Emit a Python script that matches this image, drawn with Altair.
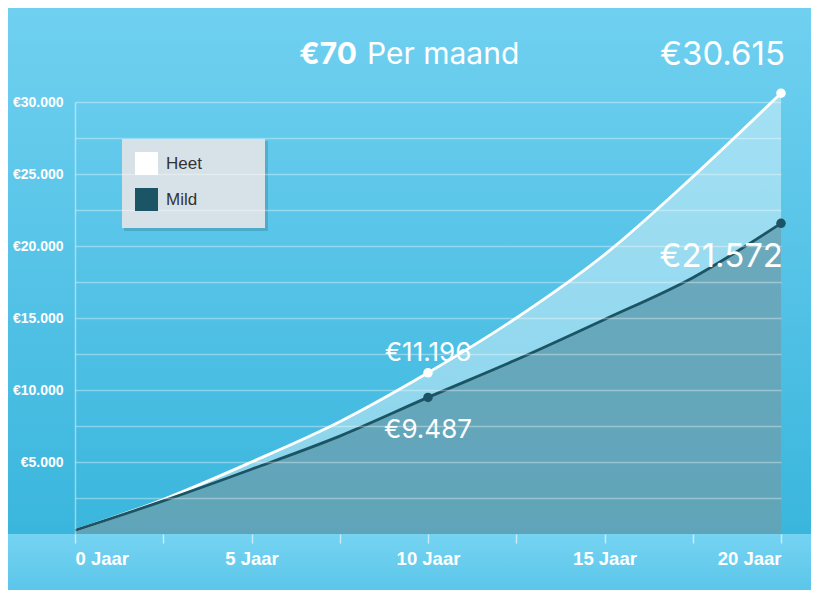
import altair as alt
import pandas as pd

# ---- data ----
years = [0, 2.5, 5, 7.5, 10, 12.5, 15, 17.5, 20]
heet = [250, 2400, 5000, 7800, 11196, 15000, 19400, 24800, 30615]
mild = [250, 2300, 4500, 6800, 9487, 12100, 14900, 17800, 21572]

label_years = [10, 20, 10, 20]
label_series = ["Heet", "Heet", "Mild", "Mild"]
label_values = [11196, 30615, 9487, 21572]
label_texts = ["€11.196", "€30.615", "€9.487", "€21.572"]

series_names = ["Heet", "Mild"]
series_colors = ["#ffffff", "#1b5465"]

y_ticks = [2500 * i for i in range(1, 13)]
x_ticks = [2.5 * i for i in range(0, 9)]

df = pd.DataFrame({
    "year": years * 2,
    "value": heet + mild,
    "series": ["Heet"] * len(years) + ["Mild"] * len(years),
})
lab = pd.DataFrame({"year": label_years, "series": label_series,
                    "value": label_values, "text": label_texts})
one = pd.DataFrame({"a": [0]})

W, H = 706, 432

xscale = alt.Scale(domain=[0, 20], nice=False, zero=False)
yscale = alt.Scale(domain=[0, 30000], nice=False)
cscale = alt.Scale(domain=series_names, range=series_colors)

X = alt.X("year:Q", scale=xscale, title=None,
          axis=alt.Axis(values=x_ticks, grid=False, domain=False,
                        tickColor="rgba(255,255,255,0.6)", tickSize=9, tickWidth=1.5,
                        labelExpr="datum.value % 5 == 0 ? datum.value + ' Jaar' : ''",
                        labelFlush=True, labelPadding=6,
                        labelFont="Liberation Sans", labelFontWeight="bold",
                        labelFontSize=18.5, labelColor="#ffffff", zindex=1))
Y = alt.Y("value:Q", scale=yscale, title=None,
          axis=alt.Axis(values=y_ticks, grid=True, gridColor="#ffffff",
                        gridOpacity=0.35, gridWidth=1.5, ticks=False,
                        domain=True, domainColor="rgba(255,255,255,0.45)", domainWidth=1.5,
                        labelExpr="datum.value % 5000 == 0 ? '€' + replace(format(datum.value, ','), ',', '.') : ''",
                        labelPadding=12, labelFont="Liberation Sans",
                        labelFontWeight="bold", labelFontSize=14, labelColor="#ffffff", zindex=1))

bg = alt.Chart(one).mark_rect(
    color=alt.LinearGradient(gradient="linear", x1=0, x2=0, y1=0, y2=1,
                             stops=[alt.GradientStop(offset=0, color="#72d1f1"),
                                    alt.GradientStop(offset=1, color="#3ab6dd")])
).encode(x=alt.value(-80), x2=alt.value(760), y=alt.value(-110), y2=alt.value(H))

band = alt.Chart(one).mark_rect(
    color=alt.LinearGradient(gradient="linear", x1=0, x2=0, y1=0, y2=1,
                             stops=[alt.GradientStop(offset=0, color="#76d3f2"),
                                    alt.GradientStop(offset=1, color="#4fc1e6")])
).encode(x=alt.value(-80), x2=alt.value(760), y=alt.value(H), y2=alt.value(H + 80))

area_heet = alt.Chart(df).transform_filter("datum.series == 'Heet'").mark_area(
    interpolate="monotone", color="#ffffff", opacity=0.4
).encode(x=X, y=Y)

area_mild = alt.Chart(df).transform_filter("datum.series == 'Mild'").mark_area(
    interpolate="monotone", color="#1b5465", opacity=0.37
).encode(x=X, y=Y)

line_heet = alt.Chart(df).transform_filter("datum.series == 'Heet'").mark_line(
    interpolate="monotone", strokeWidth=2.8, color="#ffffff").encode(x=X, y=Y)
line_mild = alt.Chart(df).transform_filter("datum.series == 'Mild'").mark_line(
    interpolate="monotone", strokeWidth=2.8, color="#1b5465").encode(x=X, y=Y)

# legend panel (background box + soft shadow) behind the library legend
legend_shadow = alt.Chart(one).mark_rect(color="#0b3a4a", opacity=0.18).encode(
    x=alt.value(49), x2=alt.value(193), y=alt.value(39), y2=alt.value(129))
legend_box = alt.Chart(one).mark_rect(color="#d6e2e8").encode(
    x=alt.value(47), x2=alt.value(190), y=alt.value(37), y2=alt.value(126))

points = alt.Chart(lab).mark_circle(size=90, opacity=1).encode(
    x=X, y=Y,
    color=alt.Color("series:N", scale=cscale, title=None,
                    legend=alt.Legend(orient="none", legendX=47, legendY=37,
                                      symbolType="square", symbolSize=529,
                                      symbolStrokeWidth=0, symbolOpacity=1,
                                      padding=13, rowPadding=13, labelOffset=8,
                                      labelFont="Liberation Sans", labelFontSize=17,
                                      labelColor="#333333", zindex=2))
)

def vlabel(cond, dy, size, align="center", dx=0):
    return alt.Chart(lab).transform_filter(cond).mark_text(
        dy=dy, dx=dx, fontSize=size, align=align, baseline="middle",
        font="Inter", color="#ffffff"
    ).encode(x=X, y=Y, text="text:N")

l1 = vlabel("datum.series == 'Heet' && datum.year == 10", -20, 26)
l2 = vlabel("datum.series == 'Mild' && datum.year == 10", 33, 26)
l3 = vlabel("datum.series == 'Heet' && datum.year == 20", -38, 33, "right", 4)
l4 = vlabel("datum.series == 'Mild' && datum.year == 20", 34, 33, "right", 2)

t1 = alt.Chart(one).mark_text(text="€70", font="Inter", fontWeight="bold", fontSize=30,
                              color="#ffffff", align="right", baseline="middle").encode(
    x=alt.value(282), y=alt.value(-47))
t2 = alt.Chart(one).mark_text(text="Per maand", font="Inter", fontSize=30,
                              color="#ffffff", align="left", baseline="middle").encode(
    x=alt.value(292), y=alt.value(-47))

chart = alt.layer(bg, band, area_heet, area_mild, line_heet, line_mild,
                  legend_shadow, legend_box, points,
                  l1, l2, l3, l4, t1, t2).properties(
    width=W, height=H,
    autosize=alt.AutoSizeParams(type="none"),
    padding={"left": 67, "top": 94, "right": 30, "bottom": 56},
).configure_view(stroke=None).configure(background="#4fc3e8")

chart.save("out.html", embed_options={"renderer": "svg", "actions": False})
